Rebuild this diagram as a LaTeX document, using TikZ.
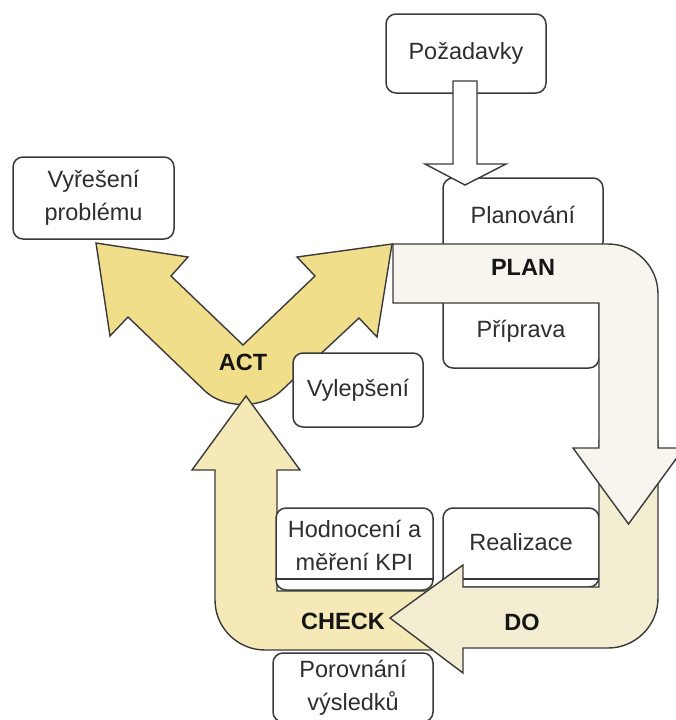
\documentclass[tikz,border=0pt]{standalone}
\usepackage{fontspec}
\setmainfont{Liberation Sans}
\definecolor{planfill}{HTML}{F7F5EE}
\definecolor{dofill}{HTML}{F3EDD2}
\definecolor{checkfill}{HTML}{F5EAB7}
\definecolor{actfill}{HTML}{F0DE8B}
\definecolor{edgec}{HTML}{3A3A3A}
\definecolor{txtc}{HTML}{2E2E2E}
\definecolor{lblc}{HTML}{151515}
\tikzset{
  box/.style={draw=edgec, line width=1.5pt, rounded corners=10pt, fill=white,
    text=txtc, align=center, font=\fontsize{23.5}{33}\selectfont, inner sep=0pt},
  txtonly/.style={text=txtc, align=center, font=\fontsize{23.5}{33}\selectfont, inner sep=0pt},
  flow/.style={draw=edgec, line width=1.4pt, line join=miter},
  lbl/.style={font=\bfseries\fontsize{23.5}{28}\selectfont, text=lblc, inner sep=0pt},
  sepline/.style={draw=edgec, line width=1.5pt}
}
\begin{document}
\begin{tikzpicture}[x=1pt,y=-1pt]
\useasboundingbox (0,0) rectangle (675,720);

% ACT double arrow
\path[flow, fill=actfill] (96,243) -- (188,257) -- (171,276) -- (243,345) -- (315,276) -- (297,257) -- (392,244)
  -- (377,337) -- (359,318) -- (281,391) .. controls (262,409) and (224,409) .. (205,391)
  -- (128,317) -- (110,336) -- cycle;

% CHECK arrow
\path[flow, fill=checkfill] (450,591) -- (277,591) -- (277,470) -- (300,470) -- (246,396) -- (192,470) -- (215,470)
  -- (215,600) .. controls (215,627.6) and (237.4,650) .. (265,650) -- (450,650) -- cycle;

% boxes
\node[box, minimum width=161pt, minimum height=82pt] (vyr) at (93.5,198) {Vyřešení\\problému};
\node[box, minimum width=130pt, minimum height=74pt] (vyl) at (358,390) {Vylepšení};
\node[box, minimum width=157pt, minimum height=82pt] (hod) at (354.5,549) {};
\node[txtonly] (hodt) at (354.5,545) {Hodnocení a\\měření KPI};
\draw[sepline] ([yshift=12pt]hod.south west) -- ([yshift=12pt]hod.south east);
\node[box, minimum width=156pt, minimum height=79pt] (rea) at (521,547.5) {};
\node[txtonly] (reat) at (521,542) {Realizace};
\draw[sepline] ([yshift=9pt]rea.south west) -- ([yshift=9pt]rea.south east);
\node[box, minimum width=160pt, minimum height=69pt] (por) at (353,687.5) {Porovnání\\výsledků};
\node[box, minimum width=160pt, minimum height=79pt] (poz) at (466,53.5) {Požadavky};
\node[box, minimum width=160pt, minimum height=74pt] (pla) at (523,215) {Planování};
\node[box, minimum width=156pt, minimum height=74pt] (pri) at (521,331) {Příprava};

% DO arrow
\path[flow, fill=dofill] (599,440) -- (658,440) -- (658,598) .. controls (658,625.6) and (635.6,648) .. (608,648)
  -- (463,648) -- (463,673) -- (390,618) -- (463,565) -- (463,587) -- (599,587) -- cycle;

% PLAN arrow
\path[flow, fill=planfill] (393,244) -- (608,244) .. controls (635.6,244) and (658,266.4) .. (658,294)
  -- (658,448) -- (684,448) -- (628.5,524) -- (573,448) -- (599,448) -- (599,303) -- (393,303) -- cycle;

% input arrow
\path[flow, fill=white] (453,81) -- (477,81) -- (477,164) -- (506,164) -- (465,185) -- (425,164) -- (453,164) -- cycle;

% phase labels
\node[lbl] (plan) at (523,267) {PLAN};
\node[lbl] (act) at (243,362) {ACT};
\node[lbl] (check) at (343,621.5) {CHECK};
\node[lbl] (do) at (522,622.5) {DO};
\end{tikzpicture}
\end{document}
